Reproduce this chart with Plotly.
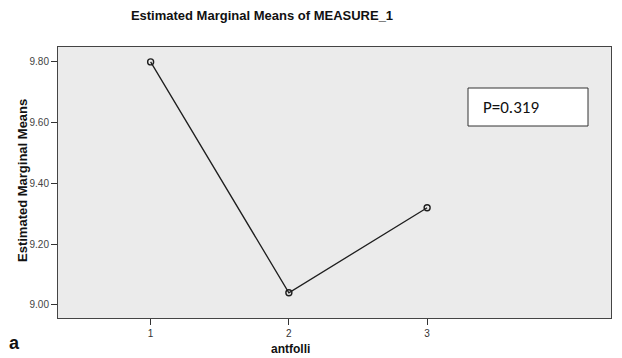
import plotly.graph_objects as go

# Estimated marginal means by antfolli level
antfolli = [1, 2, 3]
means = [9.80, 9.04, 9.32]
y_ticks = [9.00, 9.20, 9.40, 9.60, 9.80]
y_tick_labels = ["9.00", "9.20", "9.40", "9.60", "9.80"]
p_label = "P=0.319"

# plot area in pixels (622 x 358 canvas)
L, R, T, B = 58, 611, 47, 318
PW, PH = R - L, B - T


def px(x):
    return (x - L) / PW


def py(y):
    return (B - y) / PH


fig = go.Figure()
fig.add_trace(go.Scatter(
    x=antfolli, y=means, mode="lines+markers",
    line=dict(color="#1e1e1e", width=1.3),
    marker=dict(symbol="circle-open", size=6, color="#1e1e1e", line=dict(width=1.4)),
    showlegend=False,
))

fig.update_layout(
    width=622, height=358,
    margin=dict(l=L, r=622 - R, t=T, b=358 - B),
    paper_bgcolor="white",
    plot_bgcolor="#ebebeb",
    font=dict(family="Liberation Sans, Arial, sans-serif", color="#222222"),
    title=dict(
        text="<b>Estimated Marginal Means of MEASURE_1</b>",
        xref="paper", x=px(262), xanchor="center",
        yref="container", y=1 - 15 / 358, yanchor="middle",
        font=dict(size=13, color="#111111"),
    ),
    xaxis=dict(
        range=[0.33, 4.33], tickvals=antfolli, ticktext=[str(v) for v in antfolli],
        ticks="outside", ticklen=6, tickcolor="#333333", tickwidth=1,
        showgrid=False, zeroline=False,
        showline=True, linecolor="#444444", linewidth=1, mirror=True,
        tickfont=dict(size=10, color="#333333"),
    ),
    yaxis=dict(
        range=[8.957, 9.849], tickvals=y_ticks, ticktext=y_tick_labels,
        ticks="outside", ticklen=6, tickcolor="#333333", tickwidth=1,
        showgrid=False, zeroline=False,
        showline=True, linecolor="#444444", linewidth=1, mirror=True,
        tickfont=dict(size=10, color="#444444"),
    ),
)

# axis titles and panel letter
fig.add_annotation(
    text="<b>antfolli</b>", xref="paper", yref="paper",
    x=px(290), y=py(349), xanchor="center", yanchor="middle",
    showarrow=False, font=dict(size=12, color="#111111"),
)
fig.add_annotation(
    text="<b>Estimated Marginal Means</b>", xref="paper", yref="paper",
    x=px(22), y=py(181), textangle=-90, xanchor="center", yanchor="middle",
    showarrow=False,
    font=dict(size=13, family="Liberation Sans Narrow, Arial Narrow, sans-serif", color="#111111"),
)
fig.add_annotation(
    text="<b>a</b>", xref="paper", yref="paper",
    x=px(14), y=py(343), xanchor="center", yanchor="middle",
    showarrow=False, font=dict(size=18, color="#111111"),
)

# p-value box
fig.add_shape(
    type="rect", xref="paper", yref="paper",
    x0=px(468), x1=px(588), y0=py(126), y1=py(88),
    line=dict(color="#333333", width=1), fillcolor="white",
)
fig.add_annotation(
    text=p_label, xref="paper", yref="paper",
    x=px(481), y=py(107), xanchor="left", yanchor="middle",
    showarrow=False, font=dict(size=17, family="Carlito, Lato, sans-serif", color="#111111"),
)

fig.write_html("out.html")
